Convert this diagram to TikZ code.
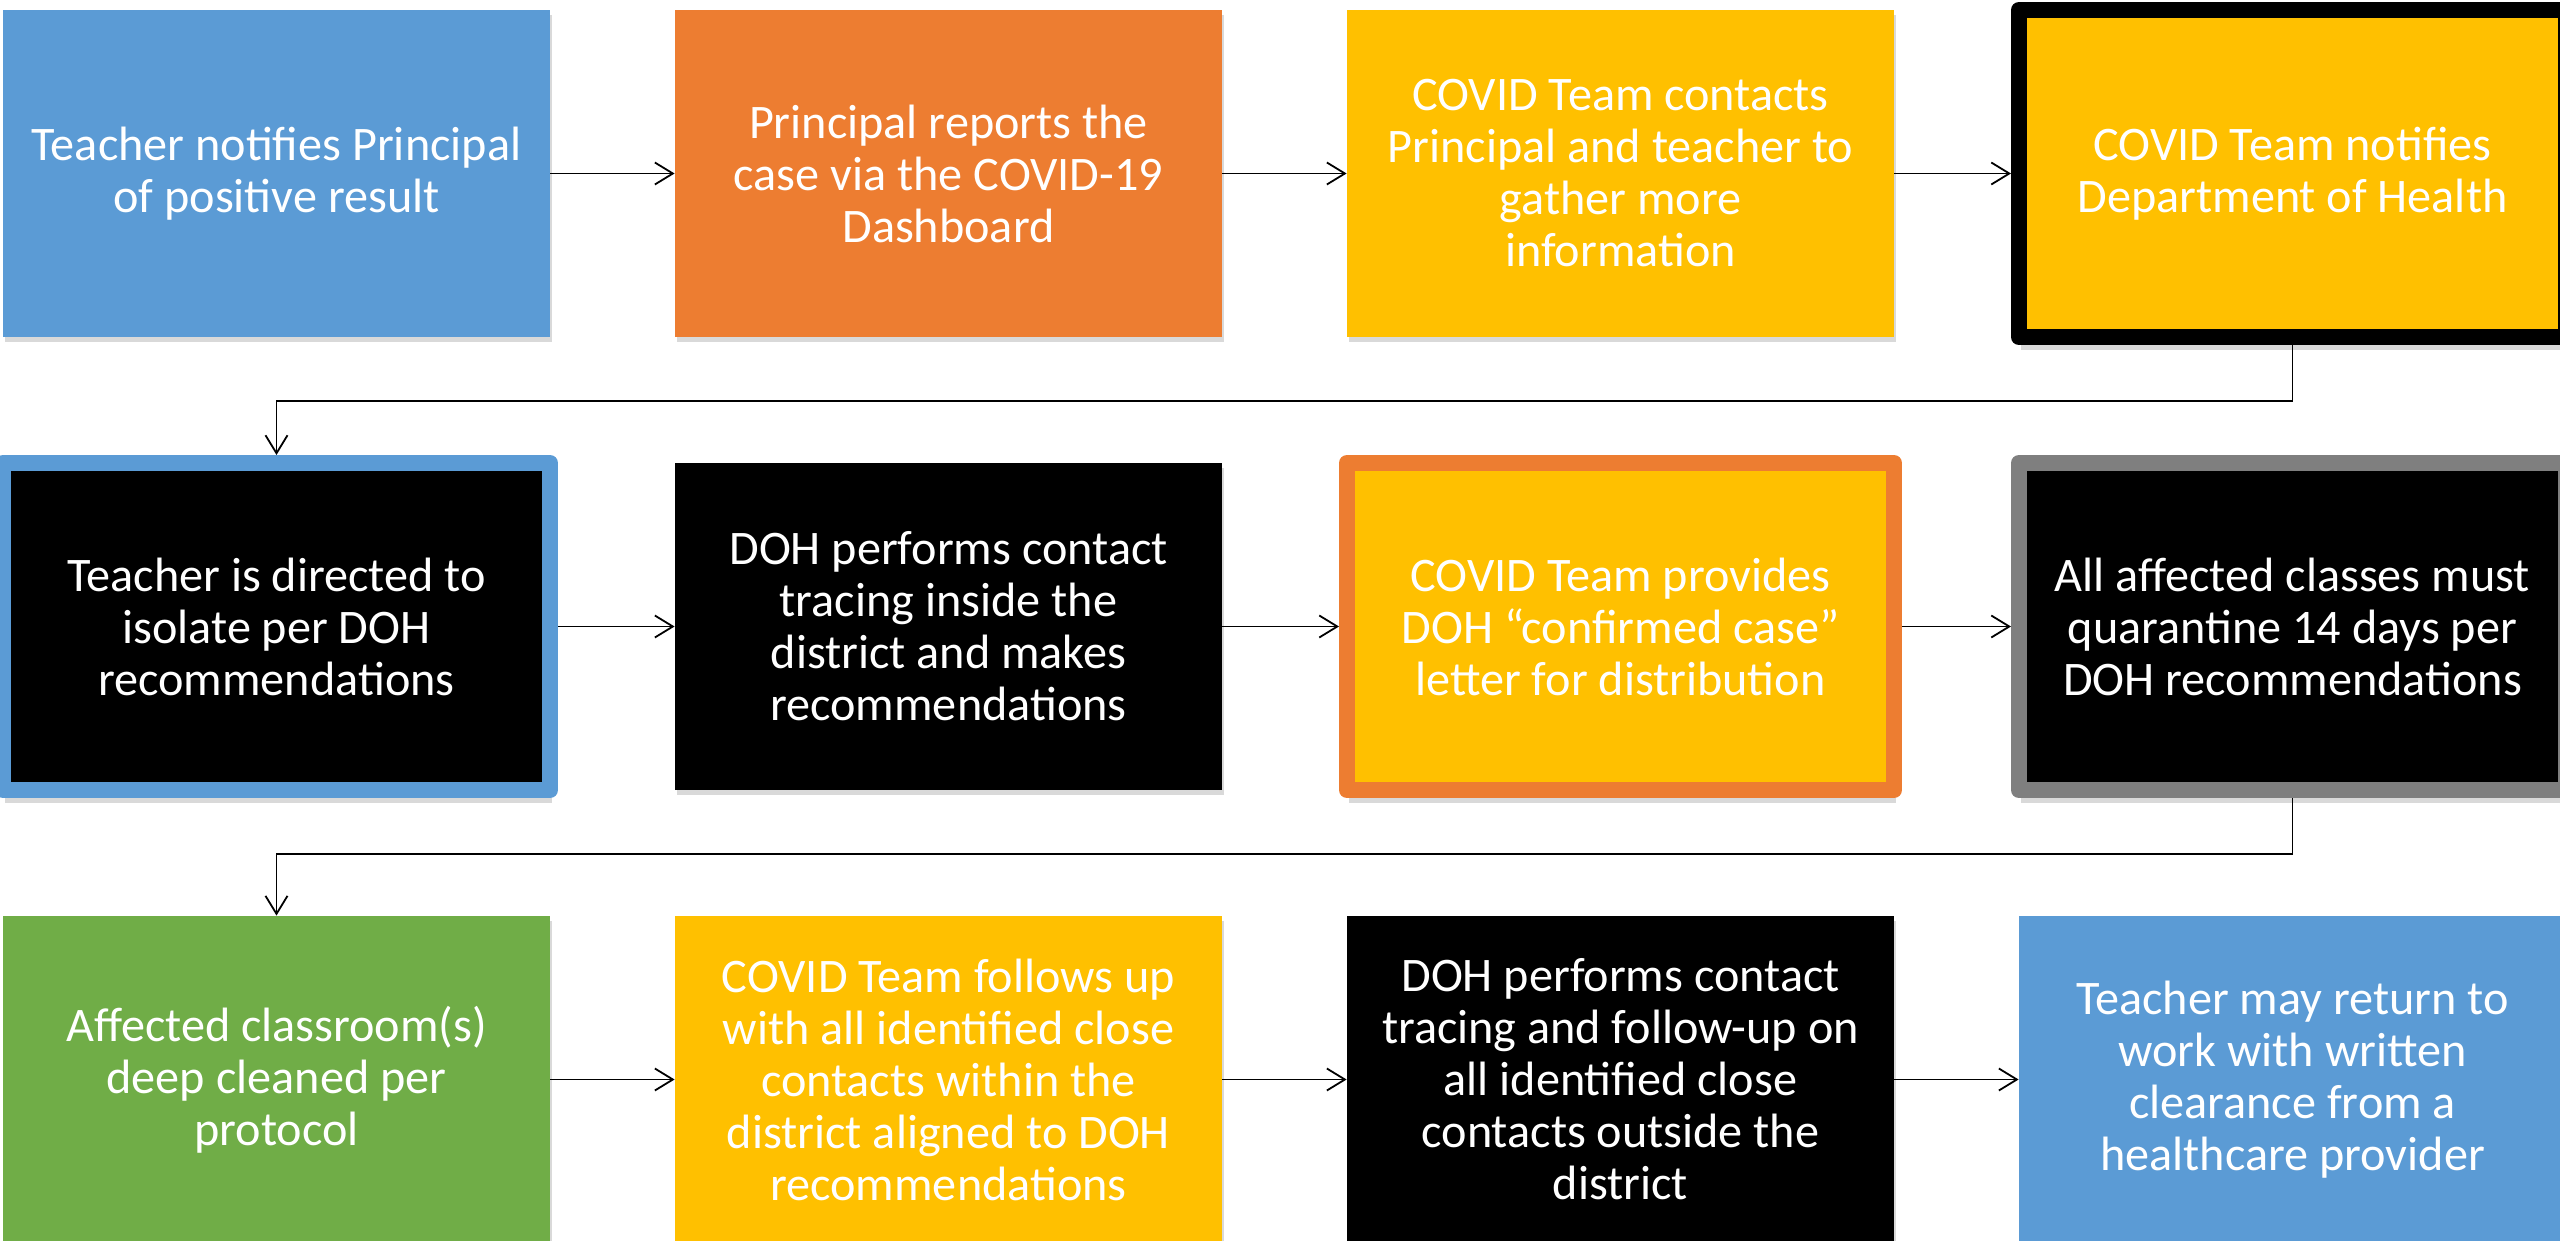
\documentclass[tikz,border=0pt]{standalone}
\usepackage{fontspec}
\setmainfont{Carlito}
\usepackage{tikz}
\usetikzlibrary{arrows.meta,positioning,shadows}
\definecolor{stepblue}{HTML}{5B9BD5}
\definecolor{steporange}{HTML}{ED7D31}
\definecolor{stepyellow}{HTML}{FFC000}
\definecolor{stepgreen}{HTML}{70AD47}
\definecolor{stepgray}{HTML}{7F7F7F}
\tikzset{
  box/.style={rectangle,minimum width=273.5pt,minimum height=163.5pt,inner sep=0pt,
    align=center,text=white,font=\fontsize{24.1pt}{26pt}\selectfont},
  flat/.style={box,fill=#1,drop shadow={shadow xshift=1pt,shadow yshift=-2.5pt,opacity=.3}},
  framed/.style 2 args={box,fill=#1,draw=#2,line width=8pt,line join=round,
    drop shadow={shadow xshift=1pt,shadow yshift=-6.5pt,opacity=.3}},
  link/.style={-{Straight Barb[length=9pt,width=11pt]},line width=0.9pt,black}
}

\begin{document}
\begin{tikzpicture}[on grid,node distance=226.5pt and 336pt]
\useasboundingbox (0,0) rectangle (1280pt,-620.5pt);
\clip (0,0) rectangle (1280pt,-620.5pt);
% first row
\node [flat=stepblue] (b1) at (138.25pt,-86.75pt) {Teacher notifies Principal\\of positive result};
\node [flat=steporange, right=of b1] (b2) {Principal reports the\\case via the COVID-19\\Dashboard};
\node [flat=stepyellow, right=of b2] (b3) {COVID Team contacts\\Principal and teacher to\\gather more\\information};
\node [framed={stepyellow}{black}, right=of b3] (b4) {COVID Team notifies\\Department of Health};
% second row
\node [framed={black}{stepblue}, below=of b1] (b5) {Teacher is directed to\\isolate per DOH\\recommendations};
\node [flat=black, right=of b5] (b6) {DOH performs contact\\tracing inside the\\district and makes\\recommendations};
\node [framed={stepyellow}{steporange}, right=of b6] (b7) {COVID Team provides\\DOH “confirmed case”\\letter for distribution};
\node [framed={black}{stepgray}, right=of b7] (b8) {All affected classes must\\quarantine 14 days per\\DOH recommendations};
% third row
\node [flat=stepgreen, below=of b5] (b9) {Affected classroom(s)\\deep cleaned per\\protocol};
\node [flat=stepyellow, right=of b9] (b10) {COVID Team follows up\\with all identified close\\contacts within the\\district aligned to DOH\\recommendations};
\node [flat=black, right=of b10] (b11) {DOH performs contact\\tracing and follow-up on\\all identified close\\contacts outside the\\district};
\node [flat=stepblue, right=of b11] (b12) {Teacher may return to\\work with written\\clearance from a\\healthcare provider};

\draw [link] (b1) -- (b2);
\draw [link] (b2) -- (b3);
\draw [link] (b3) -- (b4);
\draw [link] (b4.south) -- ++(0,-28pt) -| (b5.north);
\draw [link] (b5) -- (b6);
\draw [link] (b6) -- (b7);
\draw [link] (b7) -- (b8);
\draw [link] (b8.south) -- ++(0,-28pt) -| (b9.north);
\draw [link] (b9) -- (b10);
\draw [link] (b10) -- (b11);
\draw [link] (b11) -- (b12);
\end{tikzpicture}
\end{document}
